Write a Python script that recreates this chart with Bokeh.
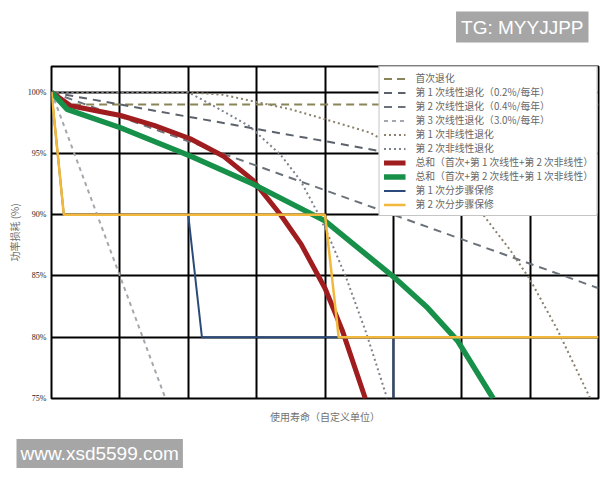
from bokeh.plotting import figure
from bokeh.models import FixedTicker, Title
from bokeh.embed import file_html
from bokeh.resources import INLINE

# ---------------- data ----------------
x_grid = [0, 1, 2, 3, 4, 5, 6, 7, 8]
y_ticks = [75, 80, 85, 90, 95, 100]
y_tick_labels = ["75%", "80%", "85%", "90%", "95%", "100%"]

first_x = [0, 0.22, 8]
first_y = [100, 99.0, 99.0]

lin1_x = [0, 8]
lin1_y = [100, 92]

lin2_x = [0, 8]
lin2_y = [100, 84]

lin3_x = [0, 1.667]
lin3_y = [100, 75]

nonlin1_x = [0, 2.0, 2.5, 3.0, 3.5, 4.0, 4.66, 5.45, 6.23, 6.71, 7.0, 7.4, 7.88]
nonlin1_y = [100, 100, 99.8, 99.2, 98.6, 97.8, 96.7, 94.2, 90.6, 87.1, 84.7, 80.6, 75.0]

nonlin2_x = [0, 2.0, 2.4, 2.9, 3.35, 3.64, 3.88, 4.05, 4.3, 4.6, 4.91]
nonlin2_y = [100, 100, 98.8, 97.2, 94.9, 92.8, 90.3, 88.3, 85.0, 80.4, 75.0]

red_x = [0, 0.28, 1.01, 1.5, 2.03, 2.51, 2.95, 3.35, 3.65, 4.0, 4.25, 4.59]
red_y = [100, 98.9, 98.1, 97.3, 96.2, 94.8, 92.8, 90.0, 87.6, 84.0, 80.6, 75.0]

green_x = [0, 0.23, 1.01, 2.03, 2.95, 4.0, 5.03, 5.5, 5.94, 6.46]
green_y = [100, 98.6, 97.1, 94.8, 92.5, 89.5, 84.8, 82.4, 79.7, 75.0]

blue_x = [0, 0.18, 2.0, 2.2, 5.0, 5.0]
blue_y = [100, 90, 90, 80, 80, 75]

yellow_x = [0, 0.18, 4.0, 4.2, 8]
yellow_y = [100, 90, 90, 80, 80]

labels = [
    "首次退化",
    "第 1 次线性退化（0.2%/每年）",
    "第 2 次线性退化（0.4%/每年）",
    "第 3 次线性退化（3.0%/每年）",
    "第 1 次非线性退化",
    "第 2 次非线性退化",
    "总和（首次+第 1 次线性+第 2 次非线性）",
    "总和（首次+第 2 次线性+第 1 次非线性）",
    "第 1 次分步骤保修",
    "第 2 次分步骤保修",
]

CJK = "Noto Sans CJK SC"

p = figure(width=600, height=478, x_range=(0, 8), y_range=(75, 102.1),
           output_backend="svg", toolbar_location=None,
           min_border_left=51, min_border_right=2, min_border_top=66,
           min_border_bottom=80)
p.background_fill_color = "white"
p.border_fill_color = "white"
p.outline_line_color = "black"
p.outline_line_width = 2

p.xgrid.ticker = FixedTicker(ticks=x_grid)
p.ygrid.ticker = FixedTicker(ticks=y_ticks)
for g in (p.xgrid, p.ygrid):
    g.grid_line_color = "black"
    g.grid_line_width = 2
    g.grid_line_alpha = 1.0

# axes
p.yaxis.ticker = FixedTicker(ticks=y_ticks)
p.yaxis.major_label_overrides = {t: l for t, l in zip(y_ticks, y_tick_labels)}
p.xaxis.ticker = FixedTicker(ticks=[])
for ax in (p.xaxis, p.yaxis):
    ax.axis_line_color = None
    ax.major_tick_line_color = None
    ax.minor_tick_line_color = None
    ax.major_tick_out = 0
    ax.axis_label_text_font = CJK
    ax.axis_label_text_font_size = "10px"
    ax.axis_label_text_font_style = "normal"
    ax.axis_label_text_color = "#707070"
p.yaxis.major_label_text_font = "Liberation Serif"
p.yaxis.major_label_text_font_size = "8px"
p.yaxis.major_label_text_color = "#222222"
p.yaxis.major_label_standoff = 5
p.yaxis.axis_label = "功率损耗 (%)"
p.yaxis.axis_label_standoff = 3
p.xaxis.axis_label = "使用寿命（自定义单位）"
p.xaxis.axis_label_standoff = 10

# lines
p.line(first_x, first_y, line_color="#8a8558", line_width=2, line_dash="8 5", legend_label=labels[0])
p.line(lin1_x, lin1_y, line_color="#5c626b", line_width=2, line_dash="8 6", legend_label=labels[1])
p.line(lin2_x, lin2_y, line_color="#6c727a", line_width=2, line_dash="8 6", legend_label=labels[2])
p.line(lin3_x, lin3_y, line_color="#a3a8ae", line_width=2, line_dash="4 4", legend_label=labels[3])
p.line(nonlin1_x, nonlin1_y, line_color="#8a806c", line_width=2, line_dash="2 3", legend_label=labels[4])
p.line(nonlin2_x, nonlin2_y, line_color="#7c828b", line_width=2, line_dash="2 3", legend_label=labels[5])
p.line(red_x, red_y, line_color="#a01d1f", line_width=5, legend_label=labels[6])
p.line(green_x, green_y, line_color="#17904a", line_width=5.5, legend_label=labels[7])
p.line(blue_x, blue_y, line_color="#2b4a7a", line_width=2, legend_label=labels[8])
p.line(yellow_x, yellow_y, line_color="#f2b83c", line_width=2.5, legend_label=labels[9])

lg = p.legend[0]
lg.location = "top_right"
lg.margin = 0
lg.padding = 4
lg.spacing = 0
lg.label_height = 13
lg.glyph_height = 13
lg.glyph_width = 22
lg.label_standoff = 10
lg.label_text_font = CJK
lg.label_text_font_size = "9.8px"
lg.label_text_color = "#666666"
lg.border_line_color = "#8c8c8c"
lg.border_line_width = 1
lg.background_fill_color = "white"
lg.background_fill_alpha = 1.0

# watermarks: an invisible (white-on-white) spacer title next to the frame,
# with the watermark title stacked above it
p.add_layout(Title(text=".", align="right", standoff=12, text_color="white",
                   text_font="Liberation Sans", text_font_size="10px"), "above")
p.add_layout(Title(text="TG: MYYJJPP", align="right", offset=10, standoff=0,
                   vertical_align="top",
                   text_color="white", text_font="Liberation Sans",
                   text_font_size="19px", text_font_style="normal",
                   background_fill_color="#a6a6a6", padding=5), "above")
p.add_layout(Title(text="www.xsd5599.com", align="left", offset=-35, standoff=21,
                   text_color="white", text_font="Liberation Sans",
                   text_font_size="19px", text_font_style="normal",
                   background_fill_color="#a6a6a6", padding=4), "below")

open("out.html", "w").write(file_html(p, INLINE))
